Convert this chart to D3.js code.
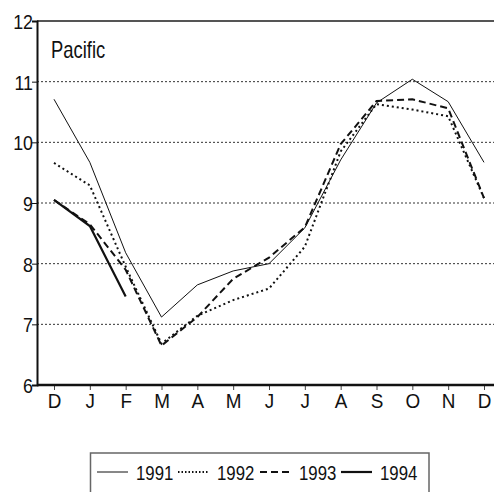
<!DOCTYPE html>
<html>
<head>
<meta charset="utf-8">
<script src="https://cdn.jsdelivr.net/npm/d3@7"></script>
<style>
  body { margin: 0; background: #fff; }
  svg text { font-family: "Liberation Sans", Arial, sans-serif; fill: #111; }
</style>
</head>
<body>
<div id="chart"></div>
<script>
// --- Data ---
const months = ["D", "J", "F", "M", "A", "M", "J", "J", "A", "S", "O", "N", "D"];
const yTicks = [6, 7, 8, 9, 10, 11, 12];
const years = ["1991", "1992", "1993", "1994"];
const v1991 = [10.71, 9.67, 8.18, 7.12, 7.65, 7.88, 8.0, 8.59, 9.71, 10.65, 11.04, 10.67, 9.67];
const v1992 = [9.66, 9.29, 7.95, 6.68, 7.14, 7.4, 7.59, 8.28, 9.85, 10.63, 10.54, 10.43, 9.08];
const v1993 = [9.05, 8.65, 7.9, 6.65, 7.12, 7.75, 8.1, 8.6, 9.97, 10.68, 10.71, 10.56, 9.08];
const v1994 = [9.05, 8.62, 7.46];
const seriesValues = [v1991, v1992, v1993, v1994];

// --- Styles per series ---
const lineStyles = [
    { width: 1, dash: null },
    { width: 2, dash: "2,3" },
    { width: 2, dash: "7,4" },
    { width: 2.2, dash: null }
];

const width = 494, height = 492;
const margin = { top: 21, right: 0, bottom: 107, left: 37 };
const SQUEEZE = 0.8; // condensed look of the original font

const svg = d3.select("#chart").append("svg")
    .attr("width", width)
    .attr("height", height);

const x = d3.scalePoint()
    .domain(d3.range(months.length))
    .range([54, 484]);

const y = d3.scaleLinear()
    .domain([6, 12])
    .range([height - margin.bottom, margin.top]);

// grid lines
svg.append("g")
    .selectAll("line")
    .data(yTicks.filter(t => t > 6 && t < 12))
    .join("line")
    .attr("x1", margin.left).attr("x2", width)
    .attr("y1", d => y(d)).attr("y2", d => y(d))
    .attr("stroke", "#333")
    .attr("stroke-width", 1)
    .attr("stroke-dasharray", "2,2");

// top frame line
svg.append("line")
    .attr("x1", margin.left).attr("x2", width)
    .attr("y1", y(12)).attr("y2", y(12))
    .attr("stroke", "#555").attr("stroke-width", 2);

// y axis
const yAxis = svg.append("g")
    .attr("transform", `translate(${margin.left},0)`)
    .call(d3.axisLeft(y).tickValues(yTicks).tickSize(5).tickFormat(d3.format("d")));
yAxis.select(".domain").attr("stroke", "#111").attr("stroke-width", 2);
yAxis.selectAll(".tick line").attr("stroke", "#111");
yAxis.selectAll("text")
    .attr("font-size", 21)
    .attr("dy", "0.36em")
    .attr("x", -4 / 0.85)
    .attr("transform", "scale(0.85,1)");

// x axis
const xAxis = svg.append("g")
    .attr("transform", `translate(0,${y(6)})`)
    .call(d3.axisBottom(x).tickSize(5).tickPadding(3).tickFormat(i => months[i]));
xAxis.select(".domain").remove();
xAxis.append("line")
    .attr("x1", margin.left).attr("x2", width)
    .attr("stroke", "#111").attr("stroke-width", 2.5);
xAxis.selectAll(".tick line").attr("stroke", "#444");
xAxis.selectAll("text")
    .attr("font-size", 21)
    .attr("transform", "scale(0.9,1)");

// series lines
const line = d3.line()
    .x((d, i) => x(i))
    .y(d => y(d));

svg.append("g")
    .selectAll("path")
    .data(seriesValues)
    .join("path")
    .attr("d", d => line(d))
    .attr("fill", "none")
    .attr("stroke", "#111")
    .attr("stroke-width", (d, i) => lineStyles[i].width)
    .attr("stroke-dasharray", (d, i) => lineStyles[i].dash);

// panel title
svg.append("text")
    .attr("transform", `translate(51,58) scale(${SQUEEZE},1)`)
    .attr("font-size", 23)
    .text("Pacific");

// legend
const legend = svg.append("g");
legend.append("rect")
    .attr("x", 90.5).attr("y", 453)
    .attr("width", 338.5).attr("height", 50)
    .attr("fill", "none")
    .attr("stroke", "#666")
    .attr("stroke-width", 1.5);

const legendX = [97, 178, 260, 341];
const item = legend.selectAll("g.item")
    .data(years)
    .join("g")
    .attr("class", "item")
    .attr("transform", (d, i) => `translate(${legendX[i]},472)`);
item.append("line")
    .attr("x1", 0).attr("x2", 31)
    .attr("stroke", "#111")
    .attr("stroke-width", (d, i) => lineStyles[i].width)
    .attr("stroke-dasharray", (d, i) => i === 1 ? "1.5,2" : lineStyles[i].dash);
item.append("text")
    .attr("transform", `translate(39,0) scale(${SQUEEZE},1)`)
    .attr("dy", "0.36em")
    .attr("font-size", 21)
    .text(d => d);
</script>
</body>
</html>
